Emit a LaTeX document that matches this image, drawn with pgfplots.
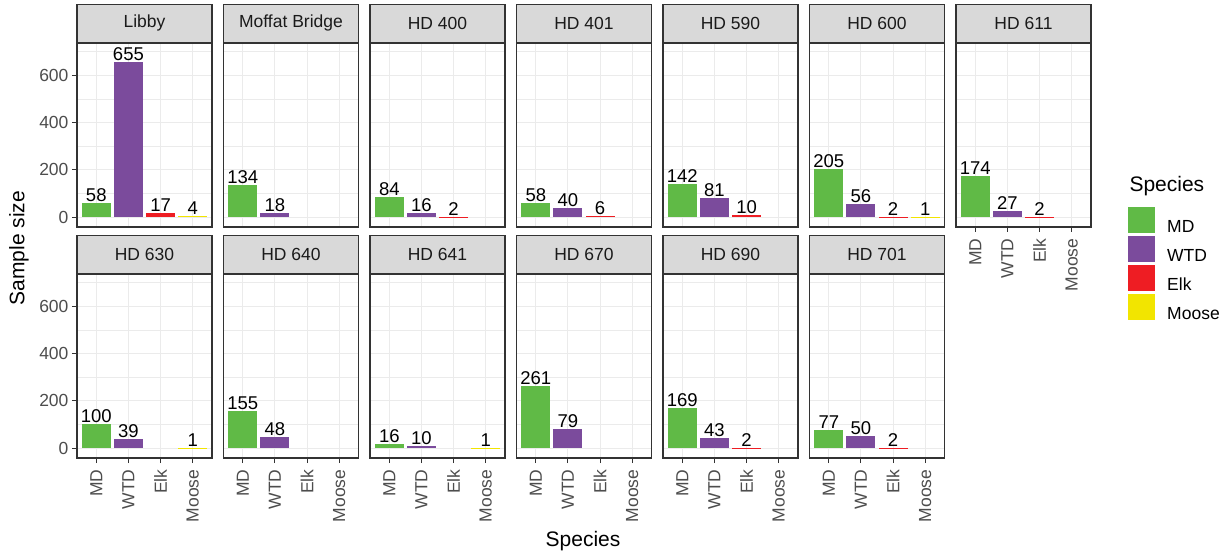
\documentclass[border=0pt]{standalone}
\usepackage{fontspec}
\setmainfont{Liberation Sans}
\usepackage{pgfplots}
\pgfplotsset{compat=1.18}

\definecolor{md}{HTML}{60BA46}
\definecolor{wtd}{HTML}{7B4B9C}
\definecolor{elk}{HTML}{EE1D23}
\definecolor{moose}{HTML}{F2E500}
\definecolor{gridc}{HTML}{EBEBEB}
\definecolor{frame}{HTML}{333333}
\definecolor{strip}{HTML}{D9D9D9}
\definecolor{ticktext}{HTML}{4D4D4D}
\definecolor{striptext}{HTML}{1A1A1A}

\newcommand\tickfont{\fontsize{17.5}{20}\selectfont}
\newcommand\barfont{\fontsize{18.5}{21}\selectfont}
\newcommand\titlefont{\fontsize{21}{24}\selectfont}

\pgfplotsset{
  panel/.style={
    scale only axis, width=135pt, height=184pt, anchor=south west,
    xmin=0.4, xmax=4.6, ymin=-42, ymax=737,
    xtick={1,2,3,4}, ytick={0,200,400,600}, minor ytick={100,300,500,700},
    xticklabels={}, yticklabels={},
    xtick pos=bottom, ytick pos=left,
    xmajorgrids, ymajorgrids, yminorgrids,
    major grid style={color=gridc, line width=1.1pt},
    minor grid style={color=gridc, line width=0.55pt},
    axis line style={color=frame, line width=1.1pt},
    tick align=outside, major tick length=5pt, minor tick length=0pt,
    xtick style={draw=none}, ytick style={draw=none},
    /pgf/number format/assume math mode=true,
    ybar, bar width=0.9, bar shift=0pt,
    nodes near coords,
    every node near coord/.append style={font=\barfont, text=black, anchor=base, yshift=1.5pt, inner sep=0pt},
    every axis title shift=0pt,
    title style={fill=strip, draw=frame, line width=1.1pt, minimum width=135pt,
      minimum height=38pt, inner sep=0pt, anchor=south, at={(0.5,1)}, yshift=0pt,
      font=\tickfont, text=striptext},
  },
  ylab/.style={yticklabels={0,200,400,600}, ytick style={draw=frame, line width=1.1pt},
    yticklabel style={font=\tickfont, text=ticktext}},
  xlab/.style={xticklabels={MD,WTD,Elk,Moose}, xtick style={draw=frame, line width=1.1pt},
    xticklabel style={rotate=90, anchor=east, font=\tickfont, text=ticktext, xshift=-3pt}},
  md/.style={fill=md, draw=none, bar shift=0pt},
  wtd/.style={fill=wtd, draw=none, bar shift=0pt},
  elk/.style={fill=elk, draw=none, bar shift=0pt},
  moose/.style={fill=moose, draw=none, bar shift=0pt},
}

\begin{document}
\begin{tikzpicture}
\useasboundingbox (0pt,0pt) rectangle (1228pt,554pt);

% ---- row 1 ----
\begin{axis}[panel, ylab, at={(77pt,327pt)}, title={Libby}]
\addplot[md] coordinates {(1,58)};
\addplot[wtd] coordinates {(2,655)};
\addplot[elk] coordinates {(3,17)};
\addplot[moose] coordinates {(4,4)};
\end{axis}
\begin{axis}[panel, at={(223.5pt,327pt)}, title={Moffat Bridge}]
\addplot[md] coordinates {(1,134)};
\addplot[wtd] coordinates {(2,18)};
\end{axis}
\begin{axis}[panel, at={(370pt,327pt)}, title={HD 400}]
\addplot[md] coordinates {(1,84)};
\addplot[wtd] coordinates {(2,16)};
\addplot[elk] coordinates {(3,2)};
\end{axis}
\begin{axis}[panel, at={(516.5pt,327pt)}, title={HD 401}]
\addplot[md] coordinates {(1,58)};
\addplot[wtd] coordinates {(2,40)};
\addplot[elk] coordinates {(3,6)};
\end{axis}
\begin{axis}[panel, at={(663pt,327pt)}, title={HD 590}]
\addplot[md] coordinates {(1,142)};
\addplot[wtd] coordinates {(2,81)};
\addplot[elk] coordinates {(3,10)};
\end{axis}
\begin{axis}[panel, at={(809.5pt,327pt)}, title={HD 600}]
\addplot[md] coordinates {(1,205)};
\addplot[wtd] coordinates {(2,56)};
\addplot[elk] coordinates {(3,2)};
\addplot[moose] coordinates {(4,1)};
\end{axis}
\begin{axis}[panel, xlab, at={(956pt,327pt)}, title={HD 611}]
\addplot[md] coordinates {(1,174)};
\addplot[wtd] coordinates {(2,27)};
\addplot[elk] coordinates {(3,2)};
\end{axis}

% ---- row 2 ----
\begin{axis}[panel, ylab, xlab, at={(77pt,96pt)}, title={HD 630}]
\addplot[md] coordinates {(1,100)};
\addplot[wtd] coordinates {(2,39)};
\addplot[moose] coordinates {(4,1)};
\end{axis}
\begin{axis}[panel, xlab, at={(223.5pt,96pt)}, title={HD 640}]
\addplot[md] coordinates {(1,155)};
\addplot[wtd] coordinates {(2,48)};
\end{axis}
\begin{axis}[panel, xlab, at={(370pt,96pt)}, title={HD 641}]
\addplot[md] coordinates {(1,16)};
\addplot[wtd] coordinates {(2,10)};
\addplot[moose] coordinates {(4,1)};
\end{axis}
\begin{axis}[panel, xlab, at={(516.5pt,96pt)}, title={HD 670}]
\addplot[md] coordinates {(1,261)};
\addplot[wtd] coordinates {(2,79)};
\end{axis}
\begin{axis}[panel, xlab, at={(663pt,96pt)}, title={HD 690}]
\addplot[md] coordinates {(1,169)};
\addplot[wtd] coordinates {(2,43)};
\addplot[elk] coordinates {(3,2)};
\end{axis}
\begin{axis}[panel, xlab, at={(809.5pt,96pt)}, title={HD 701}]
\addplot[md] coordinates {(1,77)};
\addplot[wtd] coordinates {(2,50)};
\addplot[elk] coordinates {(3,2)};
\end{axis}

% ---- legend ----
\begin{axis}[hide axis, scale only axis, width=20pt, height=20pt,
  at={(1128pt,347pt)}, anchor=north west, xmin=0, xmax=1, ymin=0, ymax=1,
  legend cell align=left,
  legend style={at={(0,1)}, anchor=north west, draw=none, fill=none,
    inner sep=0pt, row sep=1.5pt, column sep=12pt, font=\tickfont,
    nodes={inner sep=0pt, text=black}},
  legend image code/.code={\fill[#1] (0pt,-5.5pt) rectangle (27pt,20.5pt);}]
\addlegendimage{md}
\addlegendentry{MD}
\addlegendimage{wtd}
\addlegendentry{WTD}
\addlegendimage{elk}
\addlegendentry{Elk}
\addlegendimage{moose}
\addlegendentry{Moose}
\end{axis}
\node[anchor=base west, font=\titlefont] at (1126pt,362pt) {Species};

% ---- axis titles ----
\node[rotate=90, font=\titlefont] at (19pt,306pt) {Sample size};
\node[anchor=base, font=\titlefont] at (583pt,8pt) {Species};
\end{tikzpicture}
\end{document}
